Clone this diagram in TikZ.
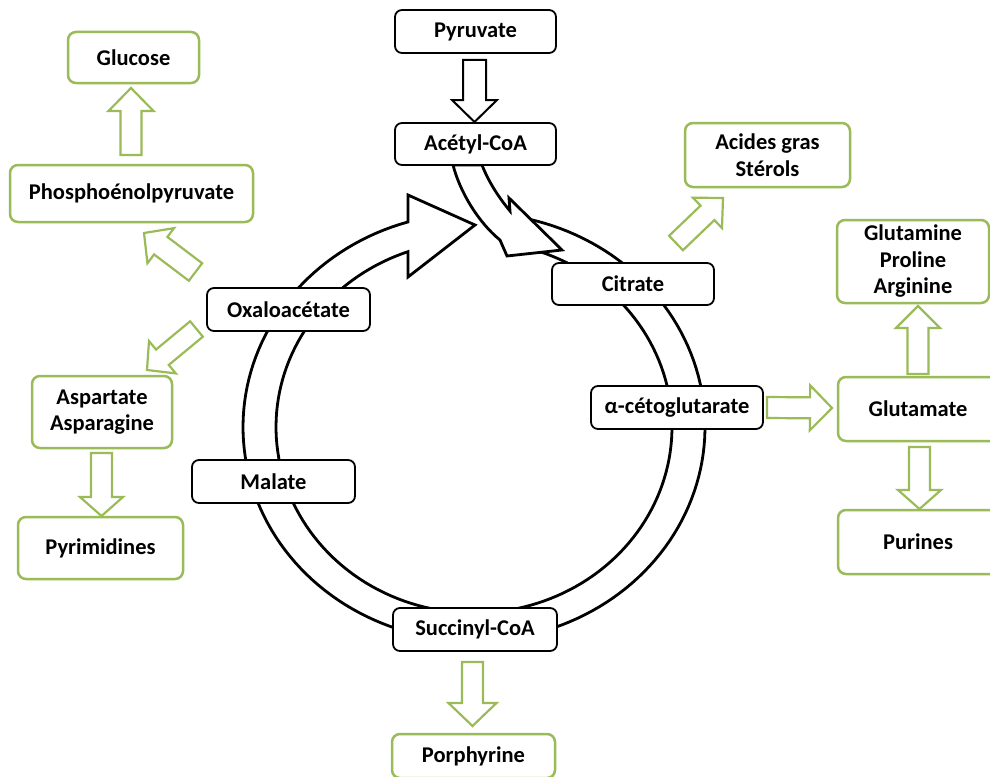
\documentclass[tikz,border=0pt]{standalone}
\usepackage{fontspec}
\setmainfont{Carlito}
\usetikzlibrary{calc}
\definecolor{grn}{RGB}{155,187,89}
\newcommand\blockarr[6]{%
  \coordinate (hbase) at ($(#2)!#5!(#1)$);
  \draw[#6] ($(#1)!#3!90:(#2)$) -- ($(hbase)!#3!-90:(#1)$) -- ($(hbase)!#4!-90:(#1)$) -- (#2) -- ($(hbase)!#4!90:(#1)$) -- ($(hbase)!#3!90:(#1)$) -- ($(#1)!#3!-90:(#2)$) -- cycle;}
\begin{document}
\begin{tikzpicture}[x={(1pt,0pt)}, y={(0pt,-1pt)},
  txt/.style={inner sep=0pt, align=center, font=\fontsize{22.5}{26.5}\selectfont\bfseries, text=black},
  blackbox/.style={txt, draw=black, line width=1.8pt, fill=white, rounded corners=7pt},
  greenbox/.style={txt, draw=grn, line width=2.5pt, fill=white, rounded corners=8pt},
  ringline/.style={draw=black, line width=2.8pt, fill=white, line join=miter},
  blkarr/.style={draw=black, line width=2pt, fill=white, line join=miter},
  grnarr/.style={draw=grn, line width=2.2pt, fill=white, line join=miter}]
\useasboundingbox (0,0) rectangle (990,776);
\fill[white] (0,0) rectangle (990,776);
% ring
\draw[ringline] plot[domain=-78.5:253.4, samples=160] ({474+231*cos(\x)},{427+214*sin(\x)})
  -- (408,195) -- (475,225) -- (408,277)
  -- plot[domain=250.5:-76.6, samples=160] ({474+198*cos(\x)},{427+186*sin(\x)}) -- cycle;
% acetyl-CoA curved arrow
\draw[ringline] (453,165) .. controls (460,192) and (478,222) .. (500,240) -- (507,256) -- (562,250)
  -- (509,198) -- (510,211) .. controls (500,199) and (489,183) .. (482,165) -- cycle;
% black boxes
\node[blackbox, minimum width=161, minimum height=43] (pyr) at (475.5,31.5) {Pyruvate};
\node[blackbox, minimum width=161, minimum height=42] (acet) at (475.5,144) {Acétyl-CoA};
\node[blackbox, minimum width=162, minimum height=42] (cit) at (633,284) {Citrate};
\node[blackbox, minimum width=172, minimum height=43] (akg) at (677,407.5) {α-cétoglutarate};
\node[blackbox, minimum width=164, minimum height=43] (succ) at (475,629.5) {Succinyl-CoA};
\node[blackbox, minimum width=163, minimum height=43] (mal) at (273.5,481.5) {Malate};
\node[blackbox, minimum width=163, minimum height=43] (oxa) at (288.5,309.5) {Oxaloacétate};
% green boxes
\node[greenbox, minimum width=131, minimum height=51] (glc) at (133.5,57.5) {Glucose};
\node[greenbox, minimum width=243, minimum height=57] (pep) at (131.5,193.5) {Phosphoénolpyruvate};
\node[greenbox, minimum width=140, minimum height=72] (asp) at (102,412) {Aspartate\\Asparagine};
\node[greenbox, minimum width=165, minimum height=62] (pyrim) at (100.5,548) {Pyrimidines};
\node[greenbox, minimum width=165, minimum height=64] (fa) at (767.5,155) {Acides gras\\Stérols};
\node[greenbox, minimum width=152, minimum height=83] (gln) at (913,261.5) {Glutamine\\Proline\\Arginine};
\node[greenbox, minimum width=160, minimum height=64] (glu) at (918,409) {Glutamate};
\node[greenbox, minimum width=160, minimum height=64] (pur) at (918,542) {Purines};
\node[greenbox, minimum width=163, minimum height=44] (por) at (473.5,756) {Porphyrine};
% arrow end points
\coordinate (a1t) at (474.5,60);  \coordinate (a1h) at (474.5,122);
\coordinate (g1t) at (131,155);   \coordinate (g1h) at (131,88);
\coordinate (g2t) at (195.5,272); \coordinate (g2h) at (144,233);
\coordinate (g3t) at (196.5,329); \coordinate (g3h) at (147,370);
\coordinate (g4t) at (101.5,453); \coordinate (g4h) at (101.5,516);
\coordinate (g5t) at (676,243);   \coordinate (g5h) at (723,198);
\coordinate (g6t) at (767,407.5); \coordinate (g6h) at (832,408);
\coordinate (g7t) at (918,374);   \coordinate (g7h) at (918,306);
\coordinate (g8t) at (919.5,447); \coordinate (g8h) at (919.5,509);
\coordinate (g9t) at (472.5,662); \coordinate (g9h) at (472.5,726);
\blockarr{a1t}{a1h}{11.5pt}{22.5pt}{22pt}{blkarr}
\blockarr{g1t}{g1h}{10.5pt}{22.5pt}{23pt}{grnarr}
\blockarr{g2t}{g2h}{11pt}{22pt}{21pt}{grnarr}
\blockarr{g3t}{g3h}{10pt}{21pt}{20pt}{grnarr}
\blockarr{g4t}{g4h}{10.5pt}{21.5pt}{19pt}{grnarr}
\blockarr{g5t}{g5h}{10pt}{21pt}{21.5pt}{grnarr}
\blockarr{g6t}{g6h}{10.5pt}{22.5pt}{22pt}{grnarr}
\blockarr{g7t}{g7h}{10.5pt}{22pt}{22pt}{grnarr}
\blockarr{g8t}{g8h}{10.5pt}{21.5pt}{19pt}{grnarr}
\blockarr{g9t}{g9h}{10.5pt}{24pt}{23pt}{grnarr}
\end{tikzpicture}
\end{document}
